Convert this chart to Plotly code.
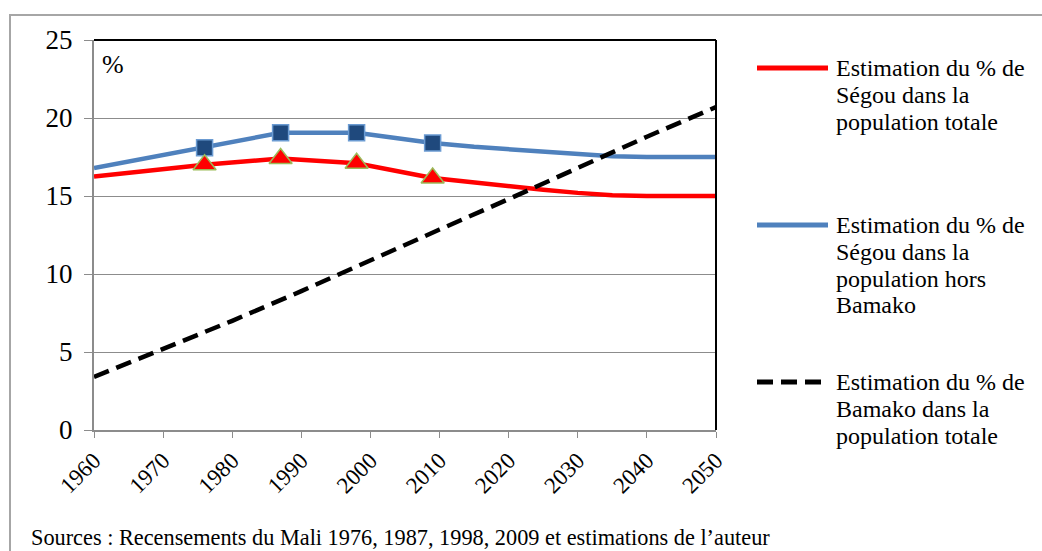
"""Part de Ségou et de Bamako dans la population du Mali, 1960-2050."""
import plotly.graph_objects as go

# Series (years on x, % on y)
years_segou = [1960, 1976, 1987, 1998, 2009, 2015, 2020, 2025, 2030, 2035, 2040, 2045, 2050]
segou_total = [16.25, 17.0, 17.4, 17.1, 16.15, 15.85, 15.6, 15.4, 15.2, 15.05, 15.0, 15.0, 15.0]
segou_hors_bamako = [16.8, 18.1, 19.05, 19.05, 18.4, 18.15, 18.0, 17.85, 17.7, 17.55, 17.5, 17.5, 17.5]

census_years = [1976, 1987, 1998, 2009]
census_segou_total = [17.0, 17.4, 17.1, 16.15]
census_segou_hors_bamako = [18.1, 19.05, 19.05, 18.4]

years_bamako = [1960, 1970, 1980, 1990, 2000, 2010, 2020, 2030, 2040, 2050]
bamako_total = [3.4, 5.2, 7.0, 8.9, 10.9, 12.85, 14.8, 16.8, 18.8, 20.7]

x_ticks = [1960, 1970, 1980, 1990, 2000, 2010, 2020, 2030, 2040, 2050]
y_ticks = [0, 5, 10, 15, 20, 25]

legend_labels = [
    ["Estimation du % de", "Ségou dans la", "population totale"],
    ["Estimation du % de", "Ségou dans la", "population hors", "Bamako"],
    ["Estimation du % de", "Bamako dans la", "population totale"],
]
source_text = "Sources : Recensements du Mali 1976, 1987, 1998, 2009 et estimations de l’auteur"

SERIF = "Liberation Serif, Times New Roman, serif"
GRID = "#8c8c8c"
COLORS = ["#ff0000", "#4f81bd", "#000000"]
DASHES = ["solid", "solid", "16px,8px"]

# plot area in pixels: x 94..716, y 40..430
L, R, T, B = 94, 716, 40, 430


def px_x(v):
    return (v - L) / (R - L)


def px_y(v):
    return (B - v) / (B - T)


fig = go.Figure()

fig.add_trace(go.Scatter(
    x=years_segou, y=segou_total, mode="lines",
    line=dict(color=COLORS[0], width=4.5), showlegend=False,
))
fig.add_trace(go.Scatter(
    x=years_segou, y=segou_hors_bamako, mode="lines",
    line=dict(color=COLORS[1], width=4.5), showlegend=False,
))
fig.add_trace(go.Scatter(
    x=years_bamako, y=bamako_total, mode="lines",
    line=dict(color=COLORS[2], width=4.5, dash=DASHES[2]), showlegend=False,
))

# census markers
fig.add_trace(go.Scatter(
    x=census_years, y=census_segou_hors_bamako, mode="markers", showlegend=False,
    marker=dict(symbol="square", size=16, color="#1f497d", line=dict(color="#6b9bd2", width=1.5)),
))
fig.add_trace(go.Scatter(
    x=census_years, y=census_segou_total, mode="markers", showlegend=False,
    marker=dict(symbol="triangle-up", size=20, color="#ff0000", line=dict(color="#9bbb59", width=1.5)),
))

annotations = [
    dict(text="%", xref="paper", yref="paper", x=px_x(100), y=px_y(64), xanchor="left", yanchor="middle",
         showarrow=False, font=dict(family=SERIF, size=26, color="#000000")),
    dict(text=source_text, xref="paper", yref="paper", x=px_x(29), y=px_y(537), xanchor="left",
         yanchor="middle", showarrow=False, font=dict(family=SERIF, size=22.3, color="#000000")),
]
shapes = [
    # outer chart border
    dict(type="rect", xref="paper", yref="paper", x0=px_x(10), x1=px_x(1060), y0=px_y(580), y1=px_y(15),
         line=dict(color="#a6a6a6", width=2), layer="below"),
    # plot area border top and right
    dict(type="line", xref="paper", yref="paper", x0=0, x1=1, y0=1, y1=1,
         line=dict(color="#000000", width=2)),
    dict(type="line", xref="paper", yref="paper", x0=1, x1=1, y0=0, y1=1,
         line=dict(color="#000000", width=2)),
]

# hand-placed legend (Excel style, text wrapped on several lines)
legend_tops = [68, 225, 382]
for top, labels, color, dash in zip(legend_tops, legend_labels, COLORS, DASHES):
    shapes.append(dict(type="line", xref="paper", yref="paper",
                       x0=px_x(757), x1=px_x(828), y0=px_y(top), y1=px_y(top),
                       line=dict(color=color, width=5, dash=dash)))
    for i, label in enumerate(labels):
        annotations.append(dict(text=label, xref="paper", yref="paper",
                                x=px_x(834), y=px_y(top + i * 26.8), xanchor="left", yanchor="middle",
                                showarrow=False, font=dict(family=SERIF, size=24, color="#000000")))

fig.update_layout(
    width=1042,
    height=551,
    margin=dict(l=L, r=1042 - R, t=T, b=551 - B),
    paper_bgcolor="white",
    plot_bgcolor="white",
    font=dict(family=SERIF, size=20, color="#000000"),
    showlegend=False,
    annotations=annotations,
    shapes=shapes,
)

fig.update_xaxes(
    range=[1960, 2050],
    tickvals=x_ticks,
    tickangle=-45,
    tickfont=dict(family=SERIF, size=23),
    showgrid=False,
    showline=True, linecolor=GRID, linewidth=2,
    ticks="outside", ticklen=6, tickcolor=GRID,
    zeroline=False,
)
fig.update_yaxes(
    range=[0, 25],
    tickvals=y_ticks,
    tickfont=dict(family=SERIF, size=27),
    ticklabelstandoff=6,
    showgrid=True, gridcolor=GRID, gridwidth=1,
    showline=True, linecolor=GRID, linewidth=2,
    ticks="outside", ticklen=8, tickcolor=GRID,
    zeroline=False,
)

fig.write_html(
    "out.html",
    config={"displayModeBar": False},
    post_script="document.body.style.margin='0px';document.body.style.overflow='hidden';",
)
